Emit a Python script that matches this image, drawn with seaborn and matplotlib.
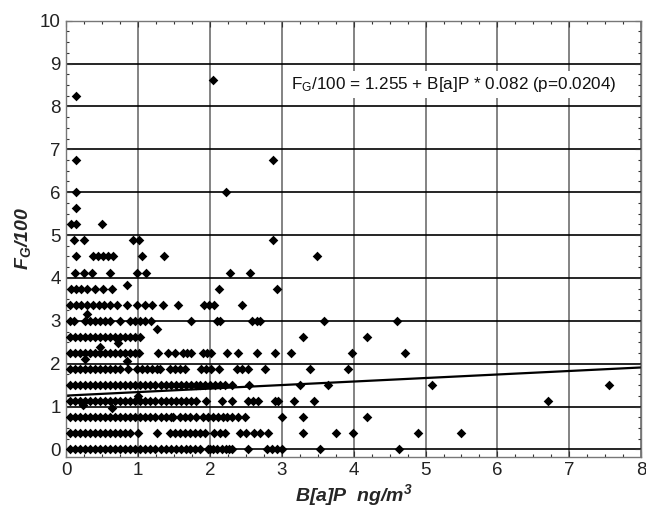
import numpy as np
import pandas as pd
import matplotlib
matplotlib.use("Agg")
import matplotlib.pyplot as plt
from matplotlib.ticker import MultipleLocator
import seaborn as sns

# F_G/100 comes in steps of 0.375, B[a]P values per step
bap_000 = [0.05, 0.12, 0.19, 0.26, 0.33, 0.40, 0.47, 0.54, 0.61, 0.68, 0.75, 0.82, 0.89, 0.96,
           1.03, 1.10, 1.17, 1.24, 1.31, 1.38, 1.45, 1.52, 1.59, 1.66, 1.72, 1.79, 1.86, 1.97,
           2.00, 2.04, 2.10, 2.17, 2.22, 2.27, 2.31, 2.53, 2.79, 2.86, 2.93, 3.00, 3.53, 4.63]
bap_0375 = [0.05, 0.12, 0.19, 0.26, 0.33, 0.40, 0.47, 0.54, 0.61, 0.68, 0.75, 0.82, 0.89, 0.99,
            1.26, 1.44, 1.51, 1.58, 1.65, 1.72, 1.79, 1.86, 1.93, 2.05, 2.14, 2.21, 2.42, 2.50,
            2.61, 2.70, 2.80, 3.29, 3.76, 3.99, 4.90, 5.50]
bap_075 = [0.05, 0.12, 0.19, 0.26, 0.33, 0.40, 0.47, 0.54, 0.61, 0.68, 0.75, 0.82, 0.89, 0.96,
           1.03, 1.10, 1.17, 1.24, 1.31, 1.38, 1.45, 1.49, 1.58, 1.65, 1.72, 1.81, 1.90, 1.97,
           2.04, 2.11, 2.18, 2.23, 2.30, 2.39, 2.49, 3.00, 3.29, 4.19]
bap_1125 = [0.05, 0.12, 0.19, 0.26, 0.33, 0.40, 0.47, 0.54, 0.61, 0.68, 0.75, 0.82, 0.89, 0.96,
            1.03, 1.10, 1.17, 1.24, 1.31, 1.38, 1.45, 1.52, 1.59, 1.66, 1.73, 1.81, 1.95, 2.16,
            2.30, 2.53, 2.60, 2.67, 2.90, 2.95, 3.17, 3.45, 6.71]
bap_150 = [0.05, 0.12, 0.19, 0.26, 0.33, 0.40, 0.47, 0.54, 0.61, 0.68, 0.75, 0.82, 0.89, 0.96,
           1.03, 1.10, 1.17, 1.24, 1.31, 1.38, 1.45, 1.52, 1.59, 1.66, 1.73, 1.80, 1.86, 1.93,
           2.00, 2.07, 2.14, 2.21, 2.30, 2.54, 3.25, 3.64, 5.09, 7.55]
bap_1875 = [0.05, 0.12, 0.19, 0.26, 0.33, 0.40, 0.47, 0.54, 0.61, 0.68, 0.75, 0.86, 0.98, 1.05,
            1.12, 1.19, 1.26, 1.30, 1.44, 1.51, 1.58, 1.65, 1.88, 1.95, 2.02, 2.12, 2.37, 2.45,
            2.53, 2.77, 3.39, 3.92]
bap_225 = [0.05, 0.12, 0.19, 0.26, 0.33, 0.40, 0.47, 0.54, 0.61, 0.68, 0.75, 0.82, 0.89, 0.96,
           1.01, 1.28, 1.42, 1.51, 1.62, 1.68, 1.74, 1.90, 1.96, 2.02, 2.23, 2.39, 2.65, 2.90,
           3.12, 3.97, 4.72]
bap_2625 = [0.05, 0.12, 0.19, 0.26, 0.33, 0.40, 0.47, 0.54, 0.61, 0.68, 0.75, 0.82, 0.89, 0.96,
            1.03, 3.29, 4.18]
bap_300 = [0.05, 0.10, 0.26, 0.33, 0.40, 0.47, 0.54, 0.61, 0.75, 0.89, 0.96, 1.03, 1.10, 1.18,
           1.74, 2.09, 2.14, 2.58, 2.66, 2.70, 3.59, 4.60]
bap_3375 = [0.05, 0.13, 0.21, 0.29, 0.37, 0.45, 0.53, 0.61, 0.70, 0.84, 0.98, 1.09, 1.19, 1.35,
            1.56, 1.91, 1.98, 2.05, 2.44]
bap_375 = [0.07, 0.13, 0.20, 0.28, 0.40, 0.51, 0.63, 2.13, 2.93]
bap_4125 = [0.12, 0.24, 0.36, 0.61, 0.98, 1.11, 2.28, 2.56]
bap_450 = [0.13, 0.37, 0.44, 0.51, 0.58, 0.65, 1.05, 1.36, 3.49]
bap_4875 = [0.10, 0.24, 0.93, 1.01, 2.87]
bap_525 = [0.07, 0.14, 0.49]
bap_5625 = [0.13]
bap_600 = [0.13, 2.22]
bap_675 = [0.13, 2.88]
bap_825 = [0.13]
bap_8625 = [2.04]

fg_levels = [0.0, 0.375, 0.75, 1.125, 1.5, 1.875, 2.25, 2.625, 3.0, 3.375, 3.75, 4.125,
             4.5, 4.875, 5.25, 5.625, 6.0, 6.75, 8.25, 8.625]
bap_rows = [bap_000, bap_0375, bap_075, bap_1125, bap_150, bap_1875, bap_225, bap_2625,
            bap_300, bap_3375, bap_375, bap_4125, bap_450, bap_4875, bap_525, bap_5625,
            bap_600, bap_675, bap_825, bap_8625]

# a few points that sit between the steps
odd_bap = [0.23, 0.63, 1.00, 0.26, 0.47, 0.84, 0.72, 1.26, 0.28, 0.85]
odd_fg = [1.03, 0.96, 1.24, 2.12, 2.39, 2.06, 2.49, 2.80, 3.15, 3.83]

# regression
intercept = 1.255
slope = 0.082
p_value = 0.0204

xs, ys = [], []
for lvl, row in zip(fg_levels, bap_rows):
    xs += row
    ys += [lvl] * len(row)
xs += odd_bap
ys += odd_fg
df = pd.DataFrame({"bap": xs, "fg": ys})

sns.set_style("ticks")
plt.rcParams["font.family"] = ["Liberation Sans", "DejaVu Sans"]
plt.rcParams["mathtext.default"] = "regular"

fig = plt.figure(figsize=(6.46, 5.11), dpi=100)
ax = fig.add_axes([0.1028, 0.1063, 0.8895, 0.8532])

sns.scatterplot(data=df, x="bap", y="fg", marker="D", s=24, color="black",
                edgecolor="black", linewidth=0, ax=ax, zorder=3)
ax.axline((0, intercept), slope=slope, color="black", lw=1.6, zorder=2)

ax.set_xlim(0, 8)
ax.set_ylim(-0.17, 10)
ax.xaxis.set_major_locator(MultipleLocator(1))
ax.yaxis.set_major_locator(MultipleLocator(1))
ax.xaxis.set_minor_locator(MultipleLocator(0.25))
ax.yaxis.set_minor_locator(MultipleLocator(0.25))
ax.set_axisbelow(True)
ax.xaxis.grid(True, which="major", color="#6e6e6e", lw=1.2)
ax.yaxis.grid(True, which="major", color="black", lw=1.2)
for sp in ax.spines.values():
    sp.set_color("#777777")
    sp.set_linewidth(1)
ax.tick_params(which="both", direction="in", top=True, right=True, colors="#333333",
               labelcolor="#222222", labelsize=13.5, pad=4)
ax.tick_params(which="major", length=4)
ax.tick_params(which="minor", length=2.5, width=0.8)

ax.set_xlabel(r"B[a]P  ng/m$^3$", fontsize=14, fontweight="bold", fontstyle="italic",
              labelpad=2)
ax.set_ylabel(r"F$_G$/100", fontsize=14, fontweight="bold", fontstyle="italic",
              labelpad=5)

ax.text(5.4, 8.52, rf"F$_G$/100 = {intercept} + B[a]P * {slope} (p={p_value})",
        ha="center", va="center", fontsize=12.3, color="#111111", zorder=4,
        bbox=dict(facecolor="white", edgecolor="none", pad=3))

fig.savefig("out.png", dpi=100)
